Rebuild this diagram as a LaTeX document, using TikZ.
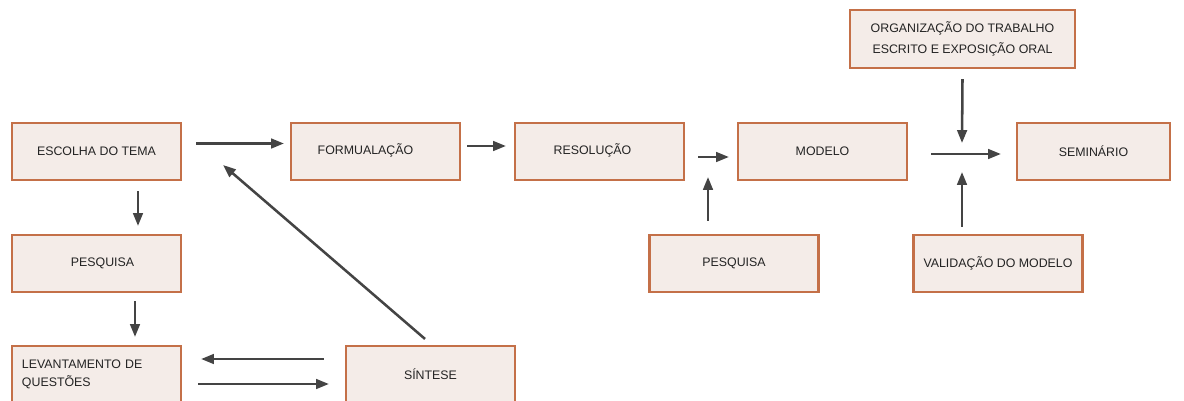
\documentclass[tikz,border=0pt]{standalone}
\usepackage{fontspec}
\setmainfont{Liberation Sans}
\usetikzlibrary{arrows.meta}

\definecolor{boxfill}{RGB}{244,236,232}
\definecolor{boxedge}{RGB}{196,112,72}
\definecolor{arrgray}{RGB}{68,68,68}
\definecolor{txtgray}{RGB}{35,35,35}

\tikzset{
  box/.style={draw=boxedge, fill=boxfill, line width=1.5pt, text=txtgray,
    minimum width=4.225cm, minimum height=1.425cm, inner sep=0pt,
    font=\fontsize{8.8}{11}\selectfont},
  arr/.style={draw=arrgray, line width=1.8pt,
    -{Triangle[length=0.32cm,width=0.24cm]}}
}

\begin{document}
\begin{tikzpicture}[x=0.025cm,y=-0.025cm]
        \useasboundingbox (0,0) rectangle (1184,401);

        % boxes
        \node[box] (escolha) at (96.5,151.5) {ESCOLHA DO TEMA};
        \node[box] (formulacao) at (375.5,151.5) {\hspace*{-0.5cm}\raisebox{0.14cm}{FORMUALAÇÃO}};
        \node[box] (resolucao) at (599.5,151.5) {\hspace*{-0.35cm}\raisebox{0.14cm}{RESOLUÇÃO}};
        \node[box] (modelo) at (822.5,151.5) {MODELO};
        \node[box, minimum width=3.825cm] (seminario) at (1093.5,151.5) {SEMINÁRIO};
        \node[box, minimum width=5.625cm, minimum height=1.45cm, align=center,
              font=\fontsize{8.8}{15}\selectfont] (organizacao) at (962.5,39)
              {ORGANIZAÇÃO DO TRABALHO\\ESCRITO E EXPOSIÇÃO ORAL};
        \node[box] (pesquisa) at (96.5,263.5) {\hspace*{0.3cm}PESQUISA};
        \node[box] (pesquisab) at (734,263.5) {PESQUISA};
        \node[box] (validacao) at (998,263.5) {VALIDAÇÃO DO MODELO};
        \node[box, text width=3.725cm, inner xsep=0.25cm, align=left,
              font=\fontsize{8.8}{12.8}\selectfont] (levantamento) at (96.5,374.5)
              {LEVANTAMENTO DE\\QUESTÕES};
        \node[box] (sintese) at (430.5,374.5) {SÍNTESE};

        % free ends
        \coordinate (ponta) at (708,177);
        \coordinate (baixo) at (962,172);
        \coordinate (cima) at (962,143);

        % top row
        \draw[arr] ([shift={(14,-8)}]escolha.east) -- ([shift={(-6,-8)}]formulacao.west);
        \draw[arr] ([shift={(6,-5.5)}]formulacao.east) -- ([shift={(-8,-5.5)}]resolucao.west);
        \draw[arr] ([shift={(13,5.5)}]resolucao.east) -- ([shift={(-8,5.5)}]modelo.west);
        \draw[arr] ([shift={(-26,-13)}]pesquisab.north) -- (ponta);
        \draw[arr] ([shift={(23,2.5)}]modelo.east) -- ([shift={(-15,2.5)}]seminario.west);
        \draw[arr] ([shift={(0,10)}]organizacao.south) -- (cima);
        \draw[arr] ([shift={(-36,-7)}]validacao.north) -- (baixo);

        % left column
        \draw[arr] ([shift={(41.5,10)}]escolha.south) -- ([shift={(41.5,-8)}]pesquisa.north);
        \draw[arr] ([shift={(38.5,8)}]pesquisa.south) -- ([shift={(38.5,-8)}]levantamento.north);
        \draw[arr] ([shift={(-21,-15.5)}]sintese.west) -- ([shift={(19,-15.5)}]levantamento.east);
        \draw[arr] ([shift={(16,9.5)}]levantamento.east) -- ([shift={(-16,9.5)}]sintese.west);
        \draw[arr] ([shift={(-5.5,-6)}]sintese.north) -- ([shift={(41,13.5)}]escolha.east);
    \end{tikzpicture}
\end{document}
